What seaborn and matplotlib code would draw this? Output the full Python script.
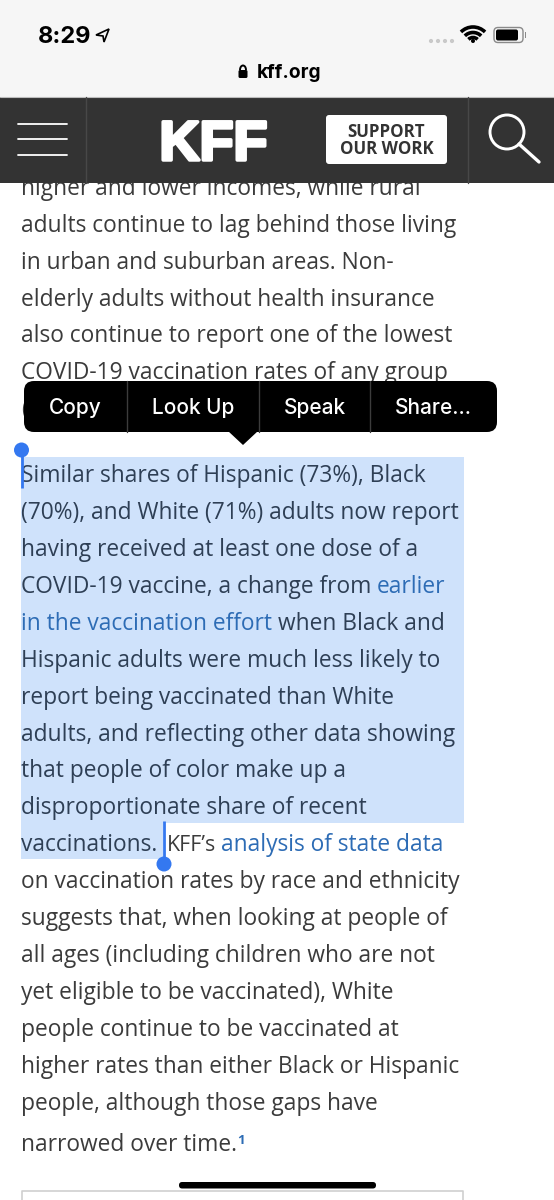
# phone screenshot of the KFF article, redrawn on a pixel sized canvas
import matplotlib
matplotlib.use('Agg')
import matplotlib.pyplot as plt
from matplotlib.patches import Rectangle, FancyBboxPatch, Polygon, Circle, Arc
from matplotlib import patheffects
import seaborn as sns

# text of the page
body_top = ['higher and lower incomes, while rural',
            'adults continue to lag behind those living',
            'in urban and suburban areas. Non-',
            'elderly adults without health insurance',
            'also continue to report one of the lowest',
            'COVID-19 vaccination rates of any group']
body_top_y = [195, 232, 269, 306, 342, 379]

selected = ['Similar shares of Hispanic (73%), Black',
            '(70%), and White (71%) adults now report',
            'having received at least one dose of a',
            'COVID-19 vaccine, a change from',
            '',
            'Hispanic adults were much less likely to',
            'report being vaccinated than White',
            'adults, and reflecting other data showing',
            'that people of color make up a',
            'disproportionate share of recent',
            'vaccinations.']
selected_y = [482, 519, 556, 593, 630, 667, 704, 741, 777, 814, 851]

body_bottom = ['on vaccination rates by race and ethnicity',
               'suggests that, when looking at people of',
               'all ages (including children who are not',
               'yet eligible to be vaccinated), White',
               'people continue to be vaccinated at',
               'higher rates than either Black or Hispanic',
               'people, although those gaps have',
               'narrowed over time.']
body_bottom_y = [888, 925, 962, 999, 1036, 1073, 1110, 1151]

menu_items = ['Copy', 'Look Up', 'Speak', 'Share...']
menu_x = [75.5, 193, 314.5, 433]
menu_dividers = [127, 258.5, 370]

BG_TOP = '#f6f6f6'
HEADER = '#333333'
TEXT = '#3b3b3b'
SEL_TEXT = '#2e3f55'
LINK = '#2d6cb5'
SEL_BG = '#cfe2fb'
HANDLE = '#3478f0'

sns.set_theme(style='white')
plt.rcParams['font.family'] = ['Open Sans', 'DejaVu Sans']

fig, ax = plt.subplots(figsize=(5.54, 12), dpi=100)
fig.subplots_adjust(0, 0, 1, 1)
ax.set_xlim(0, 554)
ax.set_ylim(1200, 0)
ax.set_axis_off()

BODY = 16.35

# selection background
ax.add_patch(Rectangle((21, 457), 443, 366, fc=SEL_BG, ec='none', zorder=1))
ax.add_patch(Rectangle((21, 823), 142, 36, fc=SEL_BG, ec='none', zorder=1))

for line, y in zip(body_top, body_top_y):
    ax.text(21, y, line, fontsize=BODY, color=TEXT, va='baseline', zorder=2)
for line, y in zip(selected, selected_y):
    ax.text(21, y, line, fontsize=BODY, color=SEL_TEXT, va='baseline', zorder=2)
for line, y in zip(body_bottom, body_bottom_y):
    ax.text(21, y, line, fontsize=BODY, color=TEXT, va='baseline', zorder=2)

# links and the mixed lines
ax.text(377, 593, 'earlier', fontsize=BODY, color=LINK, va='baseline', zorder=2)
ax.text(21, 630, 'in the vaccination effort', fontsize=BODY, color=LINK, va='baseline', zorder=2)
ax.text(278, 630, 'when Black and', fontsize=BODY, color=SEL_TEXT, va='baseline', zorder=2)
ax.text(167, 851, 'KFF’s', fontsize=15.4, color=TEXT, va='baseline', zorder=2)
ax.text(221, 851, 'analysis of state data', fontsize=BODY, color=LINK, va='baseline', zorder=2)
ax.text(237, 1144, '1', fontsize=9.5, color=LINK, va='baseline', fontweight='bold', zorder=2)

# a stray glyph behind the menu
ax.text(21, 416, '(', fontsize=BODY, color=TEXT, va='baseline', zorder=2)

# selection handles
ax.plot([21.5, 21.5], [452, 488], color=HANDLE, lw=2, zorder=3, solid_capstyle='butt')
ax.add_patch(Circle((21.5, 450), 7.5, fc=HANDLE, ec='none', zorder=3))
ax.plot([164, 164], [821, 859], color=HANDLE, lw=2, zorder=3, solid_capstyle='butt')
ax.add_patch(Circle((164, 864), 7.5, fc=HANDLE, ec='none', zorder=3))

# status bar
ax.add_patch(Rectangle((0, 0), 554, 97, fc=BG_TOP, ec='none', zorder=4))
ax.text(38, 43, '8:29', fontsize=17, color='black', fontweight='bold', family='Inter', va='baseline', zorder=5)
ax.add_patch(Polygon([(96, 35), (109, 29), (104, 42), (103, 36)], closed=True, fc='none', ec='black', lw=1.2, zorder=5))
for dx in [431, 438, 445, 452]:
    ax.add_patch(Circle((dx, 41), 2.1, fc='#c9c9c9', ec='none', zorder=5))
for r in [6.5, 11.5, 17]:
    ax.add_patch(Arc((473, 44), 2 * r, 2 * r, theta1=225, theta2=315, color='black', lw=2.6, zorder=5))
ax.add_patch(Circle((473, 41), 2, fc='black', ec='none', zorder=5))
ax.add_patch(FancyBboxPatch((494, 27.5), 29, 15, boxstyle='round,pad=0,rounding_size=4', fc='none', ec='#8a8a8a', lw=1, zorder=5))
ax.add_patch(FancyBboxPatch((496, 29.5), 22, 11, boxstyle='round,pad=0,rounding_size=2', fc='black', ec='none', zorder=5))
ax.add_patch(Rectangle((524.5, 32), 1.5, 6, fc='#8a8a8a', ec='none', zorder=5))

# address bar
ax.add_patch(FancyBboxPatch((238.5, 70), 9, 8, boxstyle='round,pad=0,rounding_size=1.5', fc='black', ec='none', zorder=5))
ax.add_patch(Arc((243, 70), 6, 9, theta1=180, theta2=360, color='black', lw=1.4, zorder=5))
ax.text(257, 78, 'kff.org', fontsize=13.8, color='black', fontweight='bold', family='Inter', va='baseline', zorder=5)

# site header
ax.add_patch(Rectangle((0, 97), 554, 86, fc=HEADER, ec='none', zorder=4))
ax.plot([0, 554], [97, 97], color='#bdbdbd', lw=0.8, zorder=5)
ax.plot([86, 86], [97, 183], color='#484848', lw=1, zorder=5)
ax.plot([467.5, 467.5], [97, 183], color='#484848', lw=1, zorder=5)
for y in [123.5, 139, 154.5]:
    ax.plot([18, 67], [y, y], color='white', lw=1.3, zorder=5)
ax.text(213.5, 160, 'KFF', fontsize=40, color='white', fontweight='bold',
        family='Liberation Sans', ha='center', va='baseline', zorder=5,
        path_effects=[patheffects.withStroke(linewidth=2.5, foreground='white')])
ax.add_patch(FancyBboxPatch((326, 115), 121, 49, boxstyle='round,pad=0,rounding_size=3', fc='white', ec='none', zorder=5))
ax.text(386.5, 137, 'SUPPORT', fontsize=12.2, color=HEADER, fontweight='bold', ha='center', va='baseline', zorder=6)
ax.text(386.5, 154, 'OUR WORK', fontsize=12.2, color=HEADER, fontweight='bold', ha='center', va='baseline', zorder=6)
ax.add_patch(Circle((507, 132), 17, fc='none', ec='white', lw=2.1, zorder=5))
ax.plot([519, 539], [144, 162], color='white', lw=2.4, zorder=5)

# edit menu
ax.add_patch(FancyBboxPatch((24, 381), 473, 51, boxstyle='round,pad=0,rounding_size=10', fc='black', ec='none', zorder=6))
ax.add_patch(Polygon([(228, 431), (258, 431), (243, 445)], closed=True, fc='black', ec='none', zorder=6))
for x in menu_dividers:
    ax.plot([x, x], [381, 432], color='#3c3c3c', lw=1, zorder=7)
for label, x in zip(menu_items, menu_x):
    ax.text(x, 414, label, fontsize=15, color='white', family='Inter', fontweight='medium',
            ha='center', va='baseline', zorder=7)

# home bar and box at the bottom
ax.add_patch(FancyBboxPatch((179, 1182), 197, 6.5, boxstyle='round,pad=0,rounding_size=3.2', fc='black', ec='none', zorder=8))
ax.plot([22, 22, 463, 463], [1200, 1191, 1191, 1200], color='#cfcfcf', lw=1.2, zorder=3)

fig.savefig('out.png', dpi=100)
